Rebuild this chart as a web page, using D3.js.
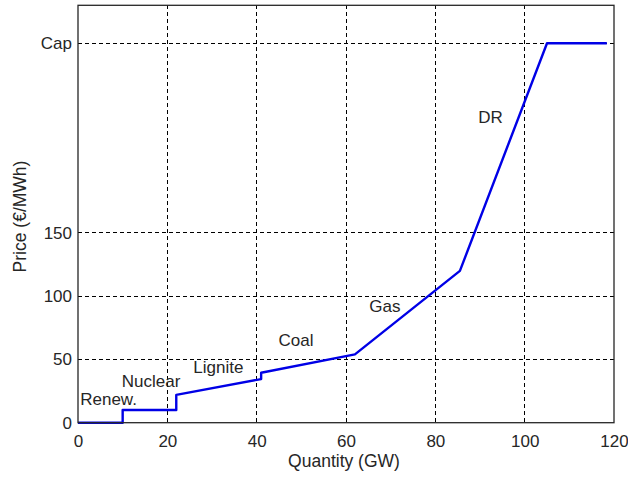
<!DOCTYPE html>
<html>
<head>
<meta charset="utf-8">
<script src="https://cdn.jsdelivr.net/npm/d3@7"></script>
<style>
  html, body { margin: 0; padding: 0; background: #fff; }
  svg { display: block; }
  text { font-family: "Liberation Sans", Arial, sans-serif; fill: #262626; }
</style>
</head>
<body>
<svg id="chart" width="628" height="477"></svg>
<script>
// Supply curve (merit order) data
const quantity = [0, 10, 10, 22, 22, 41, 41, 62, 85.5, 105, 118.4];
const price    = [0, 0, 10, 10, 22, 34.5, 39.5, 54, 120, 300, 300];

const xTicks = [0, 20, 40, 60, 80, 100, 120];
const xTickLabels = ["0", "20", "40", "60", "80", "100", "120"];
const yTicks = [0, 50, 100, 150, 300];
const yTickLabels = ["0", "50", "100", "150", "Cap"];

const labelNames = ["Renew.", "Nuclear", "Lignite", "Coal", "Gas", "DR"];
const labelX = [0.5, 9.8, 25.8, 44.9, 65.2, 89.6];
const labelY = [14.0, 28.2, 39.3, 60.9, 87.5, 236.9];

const xLabel = "Quantity (GW)";
const yLabel = "Price (\u20AC/MWh)";

const svg = d3.select("#chart");
const mLeft = 78, mRight = 614, mTop = 5.3, mBottom = 422.7;

const x = d3.scaleLinear().domain([0, 120]).range([mLeft, mRight]);
const y = d3.scaleLinear().domain([0, 330]).range([mBottom, mTop]);

// grid
const grid = svg.append("g");
grid.selectAll("line.vx").data(xTicks.filter(t => t > 0 && t < 120)).join("line")
  .attr("x1", d => x(d)).attr("x2", d => x(d))
  .attr("y1", mTop).attr("y2", mBottom)
  .attr("stroke", "#000").attr("stroke-width", 1)
  .attr("stroke-dasharray", "4,3")
  .attr("shape-rendering", "crispEdges");
grid.selectAll("line.hy").data(yTicks.filter(t => t > 0)).join("line")
  .attr("x1", mLeft).attr("x2", mRight)
  .attr("y1", d => y(d)).attr("y2", d => y(d))
  .attr("stroke", "#000").attr("stroke-width", 1)
  .attr("stroke-dasharray", "4,3")
  .attr("shape-rendering", "crispEdges");

// axes via d3 axis (labels only, no tick marks)
const xAxis = d3.axisBottom(x).tickValues(xTicks)
  .tickFormat((d, i) => xTickLabels[i]).tickSize(0).tickPadding(12);
const gx = svg.append("g").attr("transform", `translate(0,${mBottom})`).call(xAxis);
gx.select(".domain").remove();
gx.selectAll("text").style("font-size", "17px")
  .style("font-family", "'Liberation Sans', Arial, sans-serif").attr("fill", "#262626");

const yAxis = d3.axisLeft(y).tickValues(yTicks)
  .tickFormat((d, i) => yTickLabels[i]).tickSize(0).tickPadding(6);
const gy = svg.append("g").attr("transform", `translate(${mLeft},0)`).call(yAxis);
gy.select(".domain").remove();
gy.selectAll("text").style("font-size", "17px")
  .style("font-family", "'Liberation Sans', Arial, sans-serif").attr("fill", "#262626");

// curve
const line = d3.line().x((d, i) => x(quantity[i])).y((d, i) => y(price[i]));
svg.append("path").datum(quantity)
  .attr("d", line)
  .attr("fill", "none")
  .attr("stroke", "#0000e6")
  .attr("stroke-width", 2.4)
  .attr("stroke-linejoin", "round");

// box
svg.append("rect")
  .attr("x", mLeft).attr("y", mTop)
  .attr("width", mRight - mLeft).attr("height", mBottom - mTop)
  .attr("fill", "none").attr("stroke", "#262626").attr("stroke-width", 1.3);

// annotations
svg.append("g").selectAll("text").data(labelNames).join("text")
  .attr("x", (d, i) => x(labelX[i]))
  .attr("y", (d, i) => y(labelY[i]))
  .attr("font-size", 17)
  .text(d => d);

// axis labels
svg.append("text")
  .attr("x", (mLeft + mRight) / 2 - 2).attr("y", 466.5)
  .attr("text-anchor", "middle").attr("font-size", 17.5)
  .text(xLabel);
svg.append("text")
  .attr("transform", `translate(26,216.5) rotate(-90)`)
  .attr("text-anchor", "middle").attr("font-size", 17.5)
  .text(yLabel);
</script>
</body>
</html>
